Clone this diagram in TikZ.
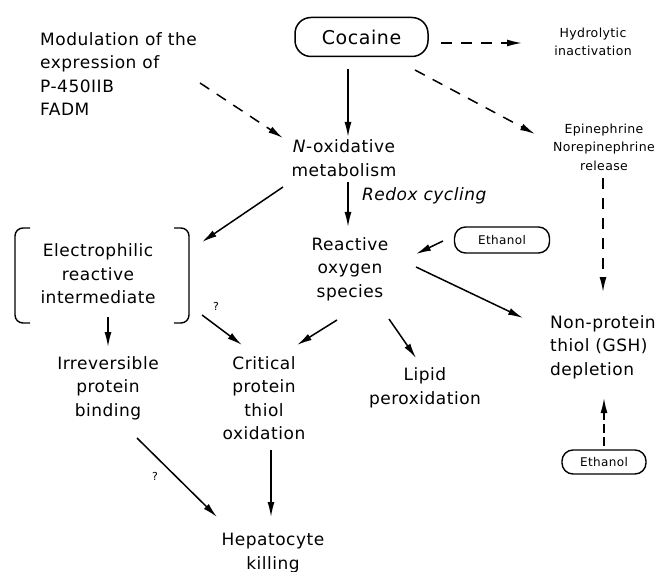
\documentclass[tikz,border=0pt]{standalone}
\usepackage{fontspec}
\setmainfont[LetterSpace=3]{DejaVu Sans}
\usetikzlibrary{arrows.meta}
\begin{document}
\begin{tikzpicture}[x=1pt,y=-1pt]
            \tikzset{
                text node/.style={align=center,font=\fontsize{17}{23.5}\selectfont,inner sep=2pt},
                small node/.style={align=center,font=\fontsize{12.5}{18.5}\selectfont,inner sep=2pt},
                pill node/.style={draw,line width=1.4pt,rounded corners=11pt,minimum height=26pt,font=\fontsize{12}{14}\selectfont},
                flow/.style={line width=1.5pt,-{Latex[length=15pt,width=7pt]}},
                weak flow/.style={flow,dash pattern=on 11pt off 9pt}
            }
            \useasboundingbox (0,0) rectangle (664,572);
            \node[text node,align=left,anchor=west] (modul) at (38,74) {Modulation of the\\expression of\\P-450IIB\\FADM};
            \node[draw,line width=1.5pt,rounded corners=16pt,minimum width=133pt,minimum height=39pt,font=\fontsize{19}{22}\selectfont] (cocaine) at (361.5,37) {Cocaine};
            \node[small node] (hydro) at (593,42) {Hydrolytic\\inactivation};
            \node[text node] (noxid) at (344,158) {\textit{N}-oxidative\\metabolism};
            \node[small node] (epi) at (604,147) {Epinephrine\\Norepinephrine\\release};
            \node[text node] (elec) at (98,274) {Electrophilic\\reactive\\intermediate};
            \node[text node] (ros) at (350,269) {Reactive\\oxygen\\species};
            \node[pill node,minimum width=95pt] (ethA) at (502,240) {Ethanol};
            \node[text node,align=left,anchor=west] (gsh) at (548,347) {Non-protein\\thiol (GSH)\\depletion};
            \node[text node] (irrev) at (108,388) {Irreversible\\protein\\binding};
            \node[text node] (crit) at (264,398) {Critical\\protein\\thiol\\oxidation};
            \node[text node] (lipid) at (425,388) {Lipid\\peroxidation};
            \node[pill node,minimum width=84pt,minimum height=24pt] (ethB) at (604,462) {Ethanol};
            \node[text node] (hepa) at (273,553) {Hepatocyte\\killing};
            % brackets round the intermediate
            \draw[line width=1.4pt,rounded corners=8pt] (30,228) -- (15,228) -- (15,323) -- (30,323);
            \draw[line width=1.4pt,rounded corners=8pt] (174,228) -- (189,228) -- (189,323) -- (174,323);
            % coordinates for arrow ends
            \coordinate (modulE) at (200,83);
            \coordinate (noxW) at (283,138);
            \coordinate (cocS) at (348,69);
            \coordinate (noxN) at (348,137);
            \coordinate (cocE) at (441,43);
            \coordinate (hydW) at (522,43);
            \coordinate (cocSE) at (415,70);
            \coordinate (epiW) at (535,134);
            \coordinate (epiS) at (603,178);
            \coordinate (gshN) at (603,292);
            \coordinate (noxSW) at (283,187);
            \coordinate (elecNE) at (202,242);
            \coordinate (noxS) at (348,182);
            \coordinate (rosN) at (348,227);
            \coordinate (ethAW) at (443,241);
            \coordinate (rosNE) at (416,254);
            \coordinate (rosE) at (416,267);
            \coordinate (gshW) at (523,318);
            \coordinate (rosSW) at (337,320);
            \coordinate (critNE) at (297,345);
            \coordinate (rosS) at (389,319);
            \coordinate (lipidN) at (416,358);
            \coordinate (elecS) at (108,317);
            \coordinate (irrevN) at (108,347);
            \coordinate (elecSE) at (202,315);
            \coordinate (critNW) at (242,345);
            \coordinate (irrevS) at (137,438);
            \coordinate (hepaNW) at (217,517);
            \coordinate (critS) at (271,450);
            \coordinate (hepaN) at (271,517);
            \coordinate (ethBN) at (604,446);
            \coordinate (gshS) at (604,398);
            \draw[weak flow] (modulE) -- (noxW);
            \draw[flow] (cocS) -- (noxN);
            \draw[weak flow] (cocE) -- (hydW);
            \draw[weak flow] (cocSE) -- (epiW);
            \draw[weak flow] (epiS) -- (gshN);
            \draw[flow] (noxSW) -- (elecNE);
            \draw[flow] (noxS) -- (rosN) node[pos=0.3,right=10pt,font=\fontsize{17}{19}\selectfont\itshape] (redox) {Redox cycling};
            \draw[flow] (ethAW) -- (rosNE);
            \draw[flow] (rosE) -- (gshW);
            \draw[flow] (rosSW) -- (critNE);
            \draw[flow] (rosS) -- (lipidN);
            \draw[flow] (elecS) -- (irrevN);
            \draw[flow] (elecSE) -- (critNW) node[pos=0.1,above right=3pt,font=\fontsize{11}{12}\selectfont] (qA) {?};
            \draw[flow] (irrevS) -- (hepaNW) node[pos=0.35,below left=3pt,font=\fontsize{11}{12}\selectfont] (qB) {?};
            \draw[flow] (critS) -- (hepaN);
            \draw[flow,dash pattern=on 9pt off 4pt] (ethBN) -- (gshS);
\end{tikzpicture}
\end{document}
